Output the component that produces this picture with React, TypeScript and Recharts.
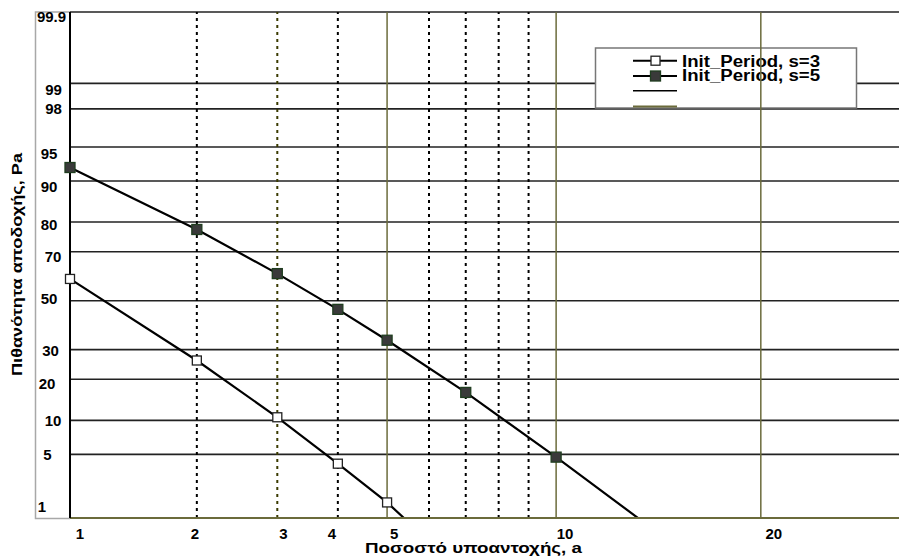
import { LineChart, Line, XAxis, YAxis, CartesianGrid, ReferenceLine } from "recharts"

// percent of under-strength (x) vs acceptance probability Pa (y), both on normal-probability paper
const X_PCT_S3 = [1, 2, 3, 4, 5, 6]
const PA_S3 = [59.2, 26.1, 10.6, 4.05, 1.54, 0.5]
const X_PCT_S5 = [1, 2, 3, 4, 5, 7, 10, 15]
const PA_S5 = [92.3, 77.7, 61.4, 46.3, 33.6, 16.3, 4.7, 0.49]
// how many leading points carry a marker (the rest only continue the line off the chart)
const MARKED_S3 = 5
const MARKED_S5 = 7

const SERIES_NAMES = ["Init_Period, s=3", "Init_Period, s=5"]

const X_TICKS = [1, 2, 3, 4, 5, 10, 20]
const X_DOTTED = [2, 3, 4, 6, 7, 8, 9]
const X_SOLID = [5, 10, 20]
const X_MAX = 29.3
const Y_TICKS = [1, 5, 10, 20, 30, 50, 70, 80, 90, 95, 98, 99, 99.9]

const X_TITLE = "Ποσοστό υποαντοχής, a"
const Y_TITLE = "Πιθανότητα αποδοχής, Pa"

const OLIVE = "#6b6b3b"
const FONT = "'Liberation Sans', Arial, sans-serif"

// inverse normal CDF (Acklam)
function probit(p: number) {
  const a = [-39.69683028665376, 220.9460984245205, -275.9285104469687, 138.357751867269, -30.66479806614716, 2.506628277459239]
  const b = [-54.47609879822406, 161.5858368580409, -155.6989798598866, 66.80131188771972, -13.28068155288572]
  const c = [-0.007784894002430293, -0.3223964580411365, -2.400758277161838, -2.549671010770010, 4.374664141464968, 2.938163982698783]
  const d = [0.007784695709041462, 0.3224671290700398, 2.445134137142996, 3.754408661907416]
  const pl = 0.02425
  if (p < pl) {
    const q = Math.sqrt(-2 * Math.log(p))
    return (((((c[0] * q + c[1]) * q + c[2]) * q + c[3]) * q + c[4]) * q + c[5]) / ((((d[0] * q + d[1]) * q + d[2]) * q + d[3]) * q + 1)
  }
  if (p <= 1 - pl) {
    const q = p - 0.5
    const r = q * q
    return ((((((a[0] * r + a[1]) * r + a[2]) * r + a[3]) * r + a[4]) * r + a[5]) * q) / (((((b[0] * r + b[1]) * r + b[2]) * r + b[3]) * r + b[4]) * r + 1)
  }
  const q = Math.sqrt(-2 * Math.log(1 - p))
  return -(((((c[0] * q + c[1]) * q + c[2]) * q + c[3]) * q + c[4]) * q + c[5]) / ((((d[0] * q + d[1]) * q + d[2]) * q + d[3]) * q + 1)
}
const z = (pct: number) => probit(pct / 100)

const s3 = X_PCT_S3.map((x, i) => ({ zx: z(x), zy: z(PA_S3[i]) }))
const s5 = X_PCT_S5.map((x, i) => ({ zx: z(x), zy: z(PA_S5[i]) }))

// small label nudges to mimic the original placement
const X_NUDGE: Record<string, number> = { "1": 10, "2": -2, "3": 6, "4": -6, "5": 7, "10": 9, "20": 13 }
const Y_NUDGE: Record<string, [number, number]> = {
  "99.9": [51.5, 10], "99": [53.5, 12], "98": [53.5, 5], "95": [49, 11.5], "90": [49, 10.7],
  "80": [49, 7.7], "70": [53, 10.7], "50": [49, 3.3], "30": [50.5, 6], "20": [47, 9.3],
  "10": [53, 5.7], "5": [47.5, 5.7], "1": [42, -6.3],
}

const XTick = (props: any) => {
  const i = X_TICKS.findIndex((t) => Math.abs(z(t) - props.payload.value) < 1e-6)
  const label = String(X_TICKS[i])
  return (
    <text x={props.x + (X_NUDGE[label] || 0)} y={538.5} textAnchor="middle" fontFamily={FONT} fontWeight="bold" fontSize={15} fill="#000">
      {label}
    </text>
  )
}

const YTick = (props: any) => {
  const i = Y_TICKS.findIndex((t) => Math.abs(z(t) - props.payload.value) < 1e-6)
  const label = String(Y_TICKS[i])
  const [cx, dy] = Y_NUDGE[label] || [50, 6]
  return (
    <text x={cx} y={props.y + dy} textAnchor="middle" fontFamily={FONT} fontWeight="bold" fontSize={15} fill="#000">
      {label}
    </text>
  )
}

const openDot = (props: any) => (
  <rect key={`o-${props.index}`} x={props.cx - 4.5} y={props.cy - 4.5} width={9} height={9} fill="#fff" stroke="#222" strokeWidth={1.3} />
)

const filledDot = (props: any) => (
  <rect key={`f-${props.index}`} x={props.cx - 5} y={props.cy - 5} width={10} height={10} fill="#3a3a3a" stroke="#1f3d1f" strokeWidth={1.3} />
)

export default function App() {
  return (
    <div style={{ position: "absolute", left: 0, top: 0, width: 899, height: 557, overflow: "hidden", background: "#fff" }}>
      <LineChart width={899} height={557} margin={{ top: 12, right: 0, bottom: 0, left: 0 }}>
        {/* gray frame round the y labels */}
        <path d="M70 12 H35.5 V518.5 H70" fill="none" stroke="#a8a8a8" strokeWidth={1.5} />
        <CartesianGrid vertical={false} stroke="#222" strokeWidth={1.6} />
        <XAxis
          type="number"
          dataKey="zx"
          domain={[z(1), z(X_MAX)]}
          ticks={X_TICKS.map(z)}
          interval={0}
          tick={XTick}
          tickLine={false}
          axisLine={{ stroke: OLIVE, strokeWidth: 2 }}
          height={39}
        />
        <YAxis
          type="number"
          dataKey="zy"
          domain={[z(1), z(99.9)]}
          allowDataOverflow
          ticks={Y_TICKS.map(z)}
          interval={0}
          tick={YTick}
          tickLine={false}
          axisLine={{ stroke: "#000", strokeWidth: 2 }}
          width={70}
        />
        {/* twin axis for the markers, so they are not clipped at the plot edge */}
        <YAxis yAxisId="m" type="number" dataKey="zy" domain={[z(1), z(99.9)]} hide />
        {X_DOTTED.map((v) => (
          <ReferenceLine key={`d-${v}`} x={z(v)} stroke={v === 3 ? "#3a3a00" : "#000"} strokeWidth={2} strokeDasharray="3 4" />
        ))}
        {X_SOLID.map((v) => (
          <ReferenceLine key={`s-${v}`} x={z(v)} stroke={OLIVE} strokeWidth={1.5} />
        ))}
        <Line data={s3} dataKey="zy" name={SERIES_NAMES[0]} stroke="#000" strokeWidth={2.2} dot={false} isAnimationActive={false} />
        <Line data={s5} dataKey="zy" name={SERIES_NAMES[1]} stroke="#000" strokeWidth={2.2} dot={false} isAnimationActive={false} />
        <Line yAxisId="m" data={s3.slice(0, MARKED_S3)} dataKey="zy" stroke="none" dot={openDot} activeDot={false} legendType="none" isAnimationActive={false} />
        <Line yAxisId="m" data={s5.slice(0, MARKED_S5)} dataKey="zy" stroke="none" dot={filledDot} activeDot={false} legendType="none" isAnimationActive={false} />

        <text x={473.5} y={553} textAnchor="middle" fontFamily={FONT} fontWeight="bold" fontSize={15.5} textLength={217} lengthAdjust="spacingAndGlyphs">
          {X_TITLE}
        </text>
        <text x={22} y={264.5} transform="rotate(-90 22 264.5)" textAnchor="middle" fontFamily={FONT} fontWeight="bold" fontSize={14.5} textLength={223} lengthAdjust="spacingAndGlyphs">
          {Y_TITLE}
        </text>

        {/* legend */}
        <g>
          <rect x={595.5} y={48} width={261} height={60} fill="#fff" stroke="#777" strokeWidth={1.5} />
          <line x1={633} x2={677} y1={60.7} y2={60.7} stroke="#000" strokeWidth={2} />
          <rect x={651} y={56.2} width={9} height={9} fill="#fff" stroke="#222" strokeWidth={1.3} />
          <line x1={633} x2={677} y1={76} y2={76} stroke="#000" strokeWidth={2} />
          <rect x={650.5} y={71} width={10} height={10} fill="#3a3a3a" stroke="#1f3d1f" strokeWidth={1.3} />
          <line x1={633} x2={677} y1={90.7} y2={90.7} stroke="#000" strokeWidth={1.5} />
          <line x1={633} x2={677} y1={106.5} y2={106.5} stroke={OLIVE} strokeWidth={2} />
          <text x={682} y={66.5} fontFamily={FONT} fontWeight="bold" fontSize={16} textLength={138} lengthAdjust="spacingAndGlyphs">
            {SERIES_NAMES[0]}
          </text>
          <text x={682} y={81.3} fontFamily={FONT} fontWeight="bold" fontSize={16} textLength={138} lengthAdjust="spacingAndGlyphs">
            {SERIES_NAMES[1]}
          </text>
        </g>
      </LineChart>
    </div>
  )
}
